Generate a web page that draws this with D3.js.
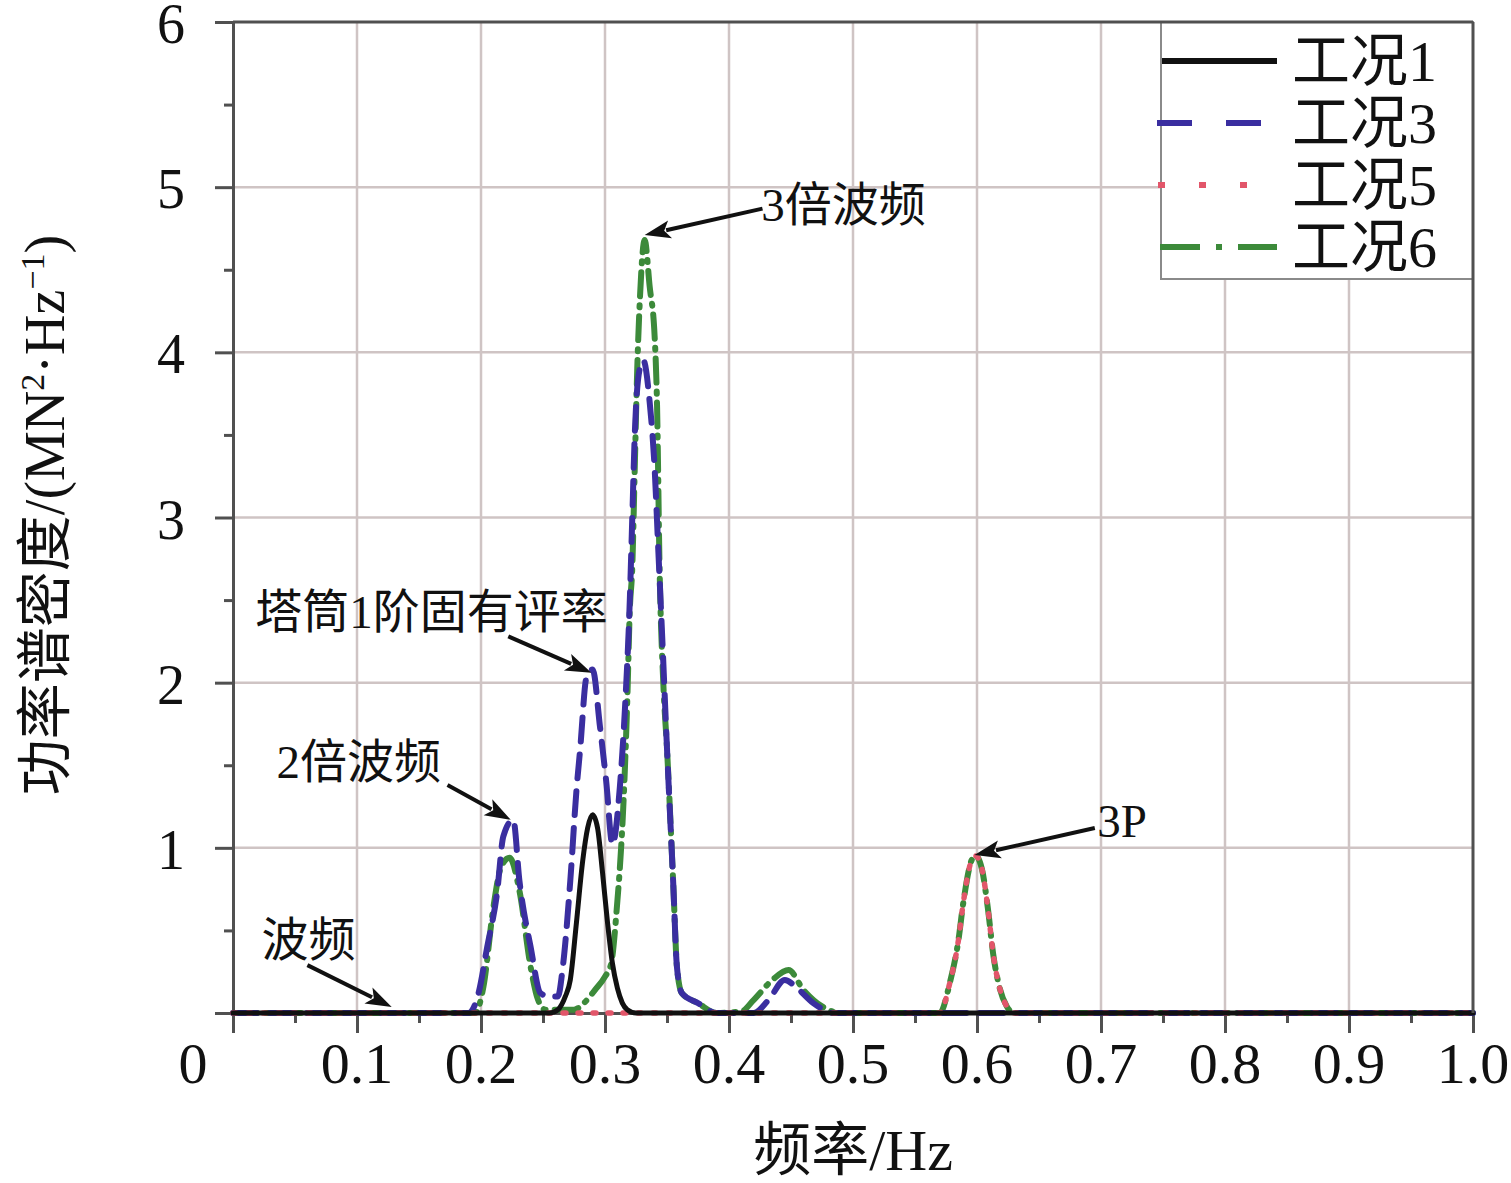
<!DOCTYPE html>
<html><head><meta charset="utf-8">
<script src="https://cdn.jsdelivr.net/npm/d3@7"></script>
<style>
html,body{margin:0;padding:0;background:#fff;}
svg{display:block;}
</style></head>
<body>
<svg id="c" width="1511" height="1183"></svg>
<script>
// ---------- data ----------
const xTicks = [0, 0.1, 0.2, 0.3, 0.4, 0.5, 0.6, 0.7, 0.8, 0.9, 1.0];
const xTickLabels = ["0", "0.1", "0.2", "0.3", "0.4", "0.5", "0.6", "0.7", "0.8", "0.9", "1.0"];
const yTicks = [0, 1, 2, 3, 4, 5, 6];
const yTickLabels = ["", "1", "2", "3", "4", "5", "6"];

const seriesNames = ["工况1", "工况3", "工况5", "工况6"];

// 工况1
const fCase1 = [0, 0.255, 0.262, 0.268, 0.272, 0.277, 0.282, 0.286, 0.290, 0.294, 0.298, 0.302, 0.306, 0.310, 0.314, 0.318, 0.325, 1.0];
const vCase1 = [0, 0, 0.02, 0.10, 0.20, 0.55, 0.92, 1.12, 1.20, 1.12, 0.85, 0.55, 0.30, 0.15, 0.06, 0.02, 0, 0];

// 工况3
const fCase3 = [0, 0.19, 0.198, 0.205, 0.213, 0.218, 0.226, 0.231, 0.240, 0.248, 0.255, 0.262, 0.266, 0.272, 0.277, 0.280, 0.285, 0.290, 0.296, 0.301, 0.306, 0.312, 0.316, 0.320, 0.322, 0.324, 0.328, 0.331, 0.336, 0.340, 0.343, 0.346, 0.350, 0.355, 0.358, 0.362, 0.375, 0.390, 0.420, 0.432, 0.445, 0.455, 0.468, 0.485, 1.0];
const vCase3 = [0, 0, 0.12, 0.40, 0.73, 1.07, 1.17, 0.80, 0.40, 0.12, 0.10, 0.10, 0.28, 0.80, 1.35, 1.60, 2.03, 2.08, 1.73, 1.40, 1.02, 1.37, 1.83, 2.50, 3.00, 3.50, 3.90, 3.95, 3.70, 3.30, 2.80, 2.30, 1.60, 0.79, 0.28, 0.12, 0.06, 0, 0, 0.08, 0.20, 0.15, 0.06, 0, 0];

// 工况5
const fCase5 = [0, 0.570, 0.578, 0.585, 0.589, 0.596, 0.599, 0.604, 0.609, 0.613, 0.618, 0.624, 0.630, 1.0];
const vCase5 = [0, 0, 0.18, 0.44, 0.67, 0.93, 0.95, 0.87, 0.62, 0.36, 0.16, 0.04, 0, 0];

// 工况6
const fCase6 = [0, 0.195, 0.202, 0.210, 0.216, 0.223, 0.231, 0.240, 0.246, 0.252, 0.275, 0.283, 0.292, 0.300, 0.305, 0.310, 0.312, 0.315, 0.318, 0.320, 0.322, 0.324, 0.326, 0.328, 0.332, 0.336, 0.340, 0.342, 0.344, 0.347, 0.350, 0.355, 0.358, 0.362, 0.375, 0.390, 0.410, 0.420, 0.435, 0.448, 0.460, 0.475, 0.490, 0.570, 0.578, 0.585, 0.589, 0.596, 0.599, 0.604, 0.609, 0.613, 0.618, 0.624, 0.630, 1.0];
const vCase6 = [0, 0, 0.16, 0.64, 0.88, 0.94, 0.74, 0.28, 0.08, 0.02, 0.02, 0.06, 0.14, 0.22, 0.30, 0.68, 0.88, 1.29, 1.90, 2.44, 2.70, 3.30, 3.90, 4.30, 4.68, 4.40, 4.10, 3.67, 2.70, 2.00, 1.60, 0.79, 0.28, 0.12, 0.06, 0, 0.01, 0.08, 0.20, 0.26, 0.14, 0.04, 0, 0, 0.18, 0.44, 0.67, 0.93, 0.95, 0.87, 0.62, 0.36, 0.16, 0.04, 0, 0];

// annotations: text, text anchor point (f, v), arrow tail (f, v), arrow tip (f, v)
const annTexts = ["3倍波频", "塔筒1阶固有评率", "2倍波频", "波频", "3P"];
const annTextPos = [[0.426, 4.89], [0.018, 2.43], [0.035, 1.52], [0.023, 0.44], [0.697, 1.16]];
const annTail = [[0.427, 4.87], [0.222, 2.28], [0.173, 1.38], [0.060, 0.29], [0.695, 1.12]];
const annTip = [[0.332, 4.71], [0.289, 2.06], [0.224, 1.17], [0.128, 0.036], [0.598, 0.956]];

// ---------- drawing ----------
const svg = d3.select("#c");
const serif = "'Liberation Serif', 'Times New Roman', 'Noto Sans CJK SC', serif";

const x = d3.scaleLinear().domain([0, 1]).range([233, 1473]);
const y = d3.scaleLinear().domain([0, 6]).range([1013, 22]);

const gridColor = "#cfc4c4";
svg.append("g").selectAll("line").data(xTicks.slice(1, -1)).join("line")
  .attr("x1", d => x(d)).attr("x2", d => x(d)).attr("y1", y(0)).attr("y2", y(6))
  .attr("stroke", gridColor).attr("stroke-width", 2.5);
svg.append("g").selectAll("line").data(yTicks.slice(1, -1)).join("line")
  .attr("x1", x(0)).attr("x2", x(1)).attr("y1", d => y(d)).attr("y2", d => y(d))
  .attr("stroke", gridColor).attr("stroke-width", 2.5);

// axes
const axisColor = "#505050";
const gx = svg.append("g").attr("transform", `translate(0,${y(0)})`)
  .call(d3.axisBottom(x).tickValues(xTicks).tickSize(20).tickFormat(""));
const gxm = svg.append("g").attr("transform", `translate(0,${y(0)})`)
  .call(d3.axisBottom(x).tickValues(d3.range(0.05, 1, 0.1)).tickSize(10).tickFormat(""));
const gy = svg.append("g").attr("transform", `translate(${x(0)},0)`)
  .call(d3.axisLeft(y).tickValues(yTicks).tickSize(18).tickFormat(""));
const gym = svg.append("g").attr("transform", `translate(${x(0)},0)`)
  .call(d3.axisLeft(y).tickValues(d3.range(0.5, 6, 1)).tickSize(9).tickFormat(""));
[gx, gxm, gy, gym].forEach(g => {
  g.selectAll("path.domain").attr("stroke", axisColor).attr("stroke-width", 3);
  g.selectAll(".tick line").attr("stroke", axisColor).attr("stroke-width", 3);
});

// tick labels
svg.append("g").selectAll("text").data(xTicks).join("text")
  .attr("x", (d, i) => i === 0 ? x(d) - 40 : x(d))
  .attr("y", 1083)
  .attr("text-anchor", "middle")
  .attr("font-family", serif).attr("font-size", 58).attr("fill", "#111")
  .text((d, i) => xTickLabels[i]);
svg.append("g").selectAll("text").data(yTicks).join("text")
  .attr("x", 185)
  .attr("y", d => y(d) + 21)
  .attr("text-anchor", "end")
  .attr("font-family", serif).attr("font-size", 56).attr("fill", "#111")
  .text((d, i) => yTickLabels[i]);

// axis titles
svg.append("text").attr("x", 853).attr("y", 1170).attr("text-anchor", "middle")
  .attr("font-family", serif).attr("font-size", 58).attr("fill", "#111")
  .text("频率/Hz");
const yt = svg.append("text").attr("transform", "translate(64,515) rotate(-90)")
  .attr("text-anchor", "middle")
  .attr("font-family", serif).attr("font-size", 56).attr("fill", "#111");
yt.append("tspan").text("功率谱密度/(MN");
yt.append("tspan").attr("font-size", 34).attr("dy", -20).text("2");
yt.append("tspan").attr("dy", 20).text("·Hz");
yt.append("tspan").attr("font-size", 34).attr("dy", -20).text("−1");
yt.append("tspan").attr("dy", 20).text(")");

// series
const styles = [
  {color: "#111111", width: 5, dash: null},
  {color: "#3a2ea0", width: 6, dash: "24,13"},
  {color: "#e2566a", width: 5.5, dash: "3,12"},
  {color: "#3c8a3a", width: 6, dash: "24,9,2,9"}
];
const fs = [fCase1, fCase3, fCase5, fCase6];
const vs = [vCase1, vCase3, vCase5, vCase6];
const line = d3.line().x(d => x(d[0])).y(d => y(d[1])).curve(d3.curveMonotoneX);
[3, 1, 2, 0].forEach(i => {
  const pts = fs[i].map((f, k) => [f, vs[i][k]]);
  svg.append("path").datum(pts)
    .attr("d", line)
    .attr("fill", "none")
    .attr("stroke", styles[i].color)
    .attr("stroke-width", styles[i].width)
    .attr("stroke-linecap", "round")
    .attr("stroke-linejoin", "round")
    .attr("stroke-dasharray", styles[i].dash);
});

// annotations
const annG = svg.append("g");
annTexts.forEach((t, i) => {
  annG.append("text")
    .attr("x", x(annTextPos[i][0])).attr("y", y(annTextPos[i][1]))
    .attr("dominant-baseline", "central")
    .attr("font-family", serif).attr("font-size", 47).attr("fill", "#111")
    .text(t);
  const x1 = x(annTail[i][0]), y1 = y(annTail[i][1]);
  const x2 = x(annTip[i][0]), y2 = y(annTip[i][1]);
  const dx = x2 - x1, dy = y2 - y1, L = Math.hypot(dx, dy);
  const ux = dx / L, uy = dy / L;
  const hl = 26, hw = 9;
  const bx = x2 - ux * hl, by = y2 - uy * hl;
  annG.append("line").attr("x1", x1).attr("y1", y1).attr("x2", bx + ux * 4).attr("y2", by + uy * 4)
    .attr("stroke", "#111").attr("stroke-width", 4);
  annG.append("polygon")
    .attr("points", [[x2, y2], [bx - uy * hw, by + ux * hw], [bx + ux * 6, by + uy * 6], [bx + uy * hw, by - ux * hw]].map(p => p.join(",")).join(" "))
    .attr("fill", "#111");
});

// legend
const lg = svg.append("g");
lg.append("rect").attr("x", 1161).attr("y", y(6)).attr("width", x(1) - 1161).attr("height", 257)
  .attr("fill", "#fff").attr("stroke", "#8a8a8a").attr("stroke-width", 2);
// frame top & right
svg.append("line").attr("x1", x(1)).attr("x2", x(1)).attr("y1", y(6)).attr("y2", y(0))
  .attr("stroke", axisColor).attr("stroke-width", 3);
svg.append("line").attr("x1", x(0)).attr("x2", x(1)).attr("y1", y(6)).attr("y2", y(6))
  .attr("stroke", axisColor).attr("stroke-width", 3);
const legDash = [null, "35,34", "7,34", "40,16,6,16"];
const legX0 = [1162, 1157, 1158, 1160];
seriesNames.forEach((n, i) => {
  const ly = 61 + i * 62;
  lg.append("line").attr("x1", legX0[i]).attr("x2", 1277).attr("y1", ly).attr("y2", ly)
    .attr("stroke", styles[i].color).attr("stroke-width", 6)
    .attr("stroke-linecap", "butt")
    .attr("stroke-dasharray", legDash[i]);
  lg.append("text").attr("x", 1292).attr("y", ly).attr("dominant-baseline", "central")
    .attr("font-family", serif).attr("font-size", 58).attr("fill", "#111")
    .text(n);
});
</script>
</body></html>
